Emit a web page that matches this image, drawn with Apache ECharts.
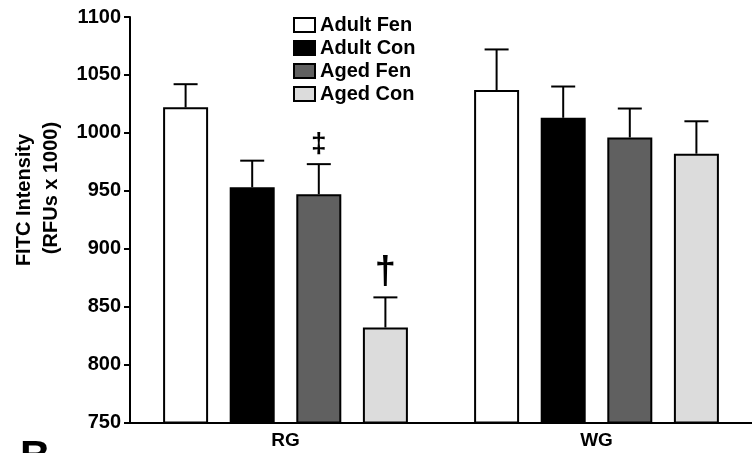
<!DOCTYPE html>
<html>
<head>
<meta charset="utf-8">
<script src="https://cdn.jsdelivr.net/npm/echarts@6/dist/echarts.min.js"></script>
<style>
  html, body { margin: 0; padding: 0; background: #fff; }
  #chart { width: 752px; height: 453px; }
</style>
</head>
<body>
<div id="chart"></div>
<script>
// groups on the x axis
var groups = ['RG', 'WG'];
var seriesNames = ['Adult Fen', 'Adult Con', 'Aged Fen', 'Aged Con'];

// means (RFUs x 1000) and upper error bars, per series, [RG, WG]
var adultFen = [1022, 1037];
var adultFenErr = [20, 35];
var adultCon = [953, 1013];
var adultConErr = [23, 27];
var agedFen = [947, 996];
var agedFenErr = [26, 25];
var agedCon = [832, 982];
var agedConErr = [26, 28];

// significance marks drawn above the error bars
var agedFenMarks = ['\u2021', ''];
var agedConMarks = ['\u2020', ''];

var yTicks = [750, 800, 850, 900, 950, 1000, 1050, 1100];

var font = "'Liberation Sans', Arial, sans-serif";
var fills = ['#ffffff', '#000000', '#606060', '#dcdcdc'];
var markSize = { '\u2021': 28, '\u2020': 38 };
var barW = 45;
var barGap = 0.48;
var step = barW * (1 + barGap);

var means = [adultFen, adultCon, agedFen, agedCon];
var errs = [adultFenErr, adultConErr, agedFenErr, agedConErr];
var marks = [['', ''], ['', ''], agedFenMarks, agedConMarks];

function errorRender(k) {
  return function (params, api) {
    var i = api.value(0);
    var p0 = api.coord([i, api.value(1)]);
    var p1 = api.coord([i, api.value(2)]);
    var x = p0[0] + (k - 1.5) * step;
    var kids = [
      { type: 'line', shape: { x1: x, y1: p0[1], x2: x, y2: p1[1] },
        style: { stroke: '#000', lineWidth: 2 } },
      { type: 'line', shape: { x1: x - 12, y1: p1[1], x2: x + 12, y2: p1[1] },
        style: { stroke: '#000', lineWidth: 2 } }
    ];
    var m = marks[k][i];
    if (m) {
      kids.push({ type: 'text', x: x, y: p1[1] - 6,
        style: { text: m, fill: '#000', font: 'bold ' + markSize[m] + 'px ' + font,
          textAlign: 'center', textVerticalAlign: 'bottom' } });
    }
    return { type: 'group', children: kids };
  };
}

var series = [];
seriesNames.forEach(function (name, k) {
  series.push({
    name: name,
    type: 'bar',
    data: means[k],
    barWidth: barW,
    barGap: (barGap * 100) + '%',
    itemStyle: { color: fills[k], borderColor: '#000', borderWidth: 2 },
    emphasis: { disabled: true },
    z: 2
  });
});
seriesNames.forEach(function (name, k) {
  series.push({
    type: 'custom',
    renderItem: errorRender(k),
    data: means[k].map(function (v, i) { return [i, v, v + errs[k][i]]; }),
    z: 3,
    silent: true
  });
});

var myChart = echarts.init(document.getElementById('chart'));
myChart.setOption({
  animation: false,
  backgroundColor: '#fff',
  grid: { left: 130, top: 17, width: 630, height: 405.5 },
  legend: {
    orient: 'vertical',
    left: 293,
    top: 15,
    padding: 0,
    icon: 'rect',
    itemWidth: 21,
    itemHeight: 14,
    itemGap: 3,
    data: seriesNames,
    textStyle: { fontFamily: font, fontWeight: 'bold', fontSize: 20, color: '#000', lineHeight: 20 }
  },
  xAxis: {
    type: 'category',
    data: groups,
    z: 10,
    axisLine: { lineStyle: { color: '#000', width: 2 } },
    axisTick: { show: false },
    axisLabel: { color: '#000', fontFamily: font, fontWeight: 'bold', fontSize: 19, margin: 9 }
  },
  yAxis: {
    type: 'value',
    min: yTicks[0],
    max: yTicks[yTicks.length - 1],
    interval: 50,
    axisLine: { show: true, lineStyle: { color: '#000', width: 2 } },
    axisTick: { show: true, length: 6, lineStyle: { color: '#000', width: 2 } },
    splitLine: { show: false },
    axisLabel: {
      color: '#000', fontFamily: font, fontWeight: 'bold', fontSize: 20, margin: 9,
      formatter: function (v) { return String(v); }
    }
  },
  graphic: [
    { type: 'text', x: 24, y: 200, rotation: Math.PI / 2,
      style: { text: 'FITC Intensity', fill: '#000', font: 'bold 20px ' + font,
        textAlign: 'center', textVerticalAlign: 'middle' } },
    { type: 'text', x: 51, y: 188, rotation: Math.PI / 2,
      style: { text: '(RFUs x 1000)', fill: '#000', font: 'bold 20px ' + font,
        textAlign: 'center', textVerticalAlign: 'middle' } },
    { type: 'text', left: 20, top: 437,
      style: { text: 'B', fill: '#000', font: 'bold 42px ' + font } }
  ],
  series: series
});
</script>
</body>
</html>
